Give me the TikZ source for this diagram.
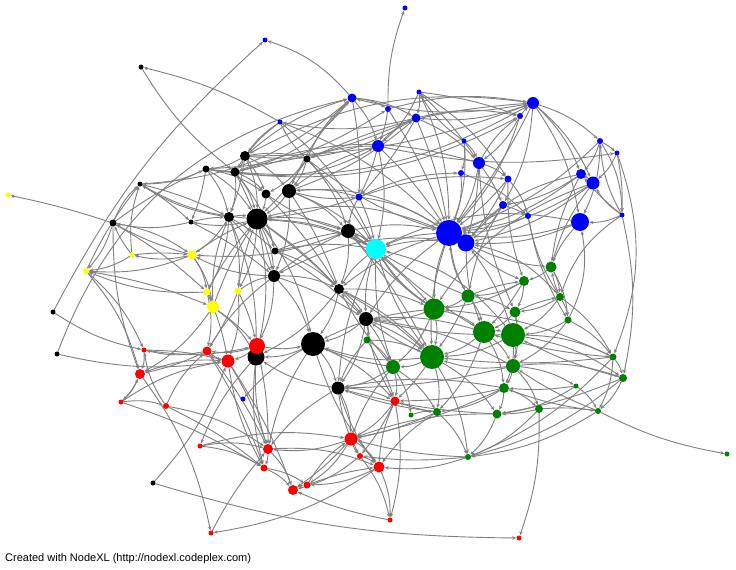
\documentclass[tikz,border=0pt]{standalone}
\usepackage{fontspec}
\setmainfont{Liberation Sans}
\usetikzlibrary{arrows.meta}
\pgfdeclarelayer{edgelayer}
\pgfdeclarelayer{bglayer}
\pgfsetlayers{bglayer,edgelayer,main}
\definecolor{ngreen}{RGB}{0,128,0}
\definecolor{ngray}{RGB}{128,128,128}
\definecolor{ncyan}{RGB}{0,255,255}
\definecolor{nblue}{RGB}{0,0,255}
\definecolor{nred}{RGB}{255,0,0}
\definecolor{nyellow}{RGB}{255,255,0}
\tikzset{
  v/.style={circle,draw=none,inner sep=0pt,outer sep=0pt},
  ed/.style={draw=ngray,line width=0.9pt,-{Stealth[length=4pt,width=3.4pt]},shorten >=0.3pt},
}
\begin{document}
\begin{tikzpicture}[x=1pt,y=-1pt]
\begin{pgfonlayer}{bglayer}
\fill[white] (0,0) rectangle (736,570);
\end{pgfonlayer}
\useasboundingbox (0,0) rectangle (736,570);
% vertices
\foreach \n/\x/\y/\d in {b1/405/8/5, b2/265/40/5, b3/352/98/9, b4/280/122/5, b5/359/197/7, b6/378/146/12, b7/419/92/5, b8/388/109/6, b9/416/118/9, b10/533/103/12, b11/520/116/6, b12/464/141/5, b13/479/163/12, b14/461/173/6, b15/508/179/7, b16/600/141/6, b17/617/153/5, b18/581/174/10, b19/593/183/13, b20/503/205/8, b21/528/216/6, b22/622/215/5, b23/580/222/18, b24/449/233/26, b25/466/243/17, b26/243/399/5}
  \node[v,fill=nblue,minimum size=\d pt] (\n) at (\x,\y) {};
\node[v,fill=ncyan,minimum size=20pt] (c1) at (376,249) {};
\foreach \n/\x/\y/\d in {k1/141/67/5, k2/245/156/10, k3/206/169/7, k4/235/172/9, k5/307/159/7, k6/140/184/5, k7/266/194/9, k8/289/191/14, k9/229/217/10, k10/257/219/21, k11/113/223/7, k12/191/222/5, k13/348/231/14, k14/275/251/7, k15/274/276/12, k16/339/289/10, k17/53/312/5, k18/57/354/5, k19/366/319/14, k20/313/344/24, k21/256/357/17, k22/338/388/13, k23/153/483/5}
  \node[v,fill=black,minimum size=\d pt] (\n) at (\x,\y) {};
\foreach \n/\x/\y/\d in {y1/8/195/5, y2/192/255/9, y3/132/255/5, y4/86/271/6, y5/207/292/7, y6/238/291/7, y7/213/307/12}
  \node[v,fill=nyellow,minimum size=\d pt] (\n) at (\x,\y) {};
\foreach \n/\x/\y/\d in {r1/257/346/16, r2/144/350/5, r3/207/351/9, r4/228/361/13, r5/140/374/10, r6/121/402/5, r7/166/406/6, r8/200/446/5, r9/268/449/10, r10/264/468/7, r11/351/439/13, r12/360/456/6, r13/379/467/11, r14/293/490/10, r15/307/485/7, r16/395/401/9, r17/211/533/5, r18/390/520/5, r19/519/538/5}
  \node[v,fill=nred,minimum size=\d pt] (\n) at (\x,\y) {};
\foreach \n/\x/\y/\d in {g1/551/267/11, g2/524/281/10, g3/468/296/13, g4/560/297/8, g5/434/309/21, g6/515/312/11, g7/568/320/7, g8/484/332/22, g9/513/335/24, g10/367/340/7, g11/432/357/24, g12/393/367/14, g13/513/366/14, g14/613/357/7, g15/623/378/8, g16/504/388/10, g17/576/386/5, g18/411/415/5, g19/437/412/8, g20/497/414/9, g21/539/409/8, g22/598/411/6, g23/468/457/6, g24/727/454/5}
  \node[v,fill=ngreen,minimum size=\d pt] (\n) at (\x,\y) {};
\node[anchor=base west,inner sep=0pt,font=\fontsize{11}{13}\selectfont] (credit) at (5,561) {Created with NodeXL (http://nodexl.codeplex.com)};
% edges
\begin{pgfonlayer}{edgelayer}
\foreach \a/\b in {b3/b9, b10/b3, b8/b10, b9/b11, b10/b9, b7/b24, b7/b15, b10/b23, b10/b19, b10/b18, b10/b20, b11/b24, b10/b16, b12/b13, b12/b14, b12/b24, b13/b11, b13/b15, b13/b24, b16/b18, b16/b23, b16/b24, b17/b19, b22/b19, b22/b23, b22/b16, b18/b20, b19/b25, b19/b24, b18/b24, b23/b24, b23/b25, b21/b24, b20/b24, b20/b25, b14/b24, b6/c1, b5/b15, b5/b24, b9/b4, b4/b24, b4/c1, b6/b9, b3/b6, b7/b6, b9/b13, b14/b21, b15/b21, b11/b13, b12/b7, b5/b14, b3/b8, b7/b9,
 k2/k3, k2/k4, k2/k8, k2/k10, k2/b3, k2/k5, k3/k10, k3/k9, k3/k6, k3/k7, k4/k7, k4/k9, k4/k10, k4/k14, k5/k8, k5/k13, k5/b3, k5/k7, k9/k6, k10/k6, k11/k6, k7/k10, k8/k10, k8/k13, k8/c1, k8/k15, k9/k10, k9/y2, k9/k21, k10/k13, k10/k15, k10/k14, k10/k12, k10/k20, k10/k21, k10/c1, k11/y2, k12/k11, k13/c1, k13/k16, k13/b24, k14/k16, k15/k16, k15/k20, k15/r1, k16/k19, k16/k20, k16/k21, k16/g5, k19/k20, k19/k22, k19/g10, k20/k21, k20/k22, k20/r16, k22/r11, k22/r16, k22/k21,
 y3/y4, y2/y4, y2/y3, y5/y4, y3/k6, k13/y2, k15/y2, y5/r3, y6/r4, y7/r5, y5/y7, y6/k15, y7/k21, k9/y5, k9/y6, k11/y4, y2/y7, y2/y5, y4/r5, y4/r2, k10/y6, y7/k9,
 r1/r3, r1/r4, r1/k21, r4/r3, r3/r2, r2/r5, r5/r6, r6/r7, r7/r2, r5/r4, r6/r4, r7/r3, r7/r9, r8/r9, r8/r10, r8/r11, r9/r10, r9/r14, r9/r13, r10/r14, r10/r15, r11/r9, r11/r13, r11/r15, r12/r13, r12/r14, r13/r15, r14/r15, r15/r11, r16/r11, r16/r18, r13/r18, r12/r18, r5/r17, r13/r17,
 g1/g2, g1/g4, g1/g7, g2/g3, g2/g6, g2/g5, g3/g5, g3/g8, g3/g6, g3/b24, g4/g6, g4/g9, g4/g7, g4/g14, g5/g11, g5/g8, g5/c1, g5/k19, g5/g12, g6/g9, g6/g8, g6/g13, g7/g9, g7/g13, g7/g14, g8/g11, g8/g9, g8/g13, g8/g16, g8/g19, g9/g11, g9/g13, g9/g16, g9/g15, g9/g14, g10/g12, g10/g11, g11/g12, g11/g19, g11/g23, g11/k20, g11/g20, g12/r16, g12/k22, g12/g18, g12/g19, g13/g16, g13/g17, g13/g21, g13/g15, g13/g11, g14/g15, g14/g22, g15/g22, g14/g23, g15/g23, g16/g20, g16/g21, g16/g19, g17/g22, g17/g20, g18/g19, g19/g23, g20/g23, g21/g23, g22/g23, g23/r13}
  \draw[ed] (\a) to[bend left=12] (\b);
\foreach \a/\b in {k3/b9, k2/b10, b10/k5, k8/b9, k4/b8, b5/k13, b5/k8, k5/b24, k7/k13, k8/b5, b6/k8, b6/k5, b4/k2, b4/k4, b4/k5, b3/k8,
 k23/r4, k21/r8, k21/r9, k20/r13, k22/r13, k22/r12, k20/b26, k17/r2, k18/r4, r2/r1, k11/r5, r6/r5, k21/r10, k20/r9, k15/r3, r1/k20, r16/r13, r11/r12, k22/r9, r4/r10,
 b23/g1, g14/g5, c1/k13, c1/k16, c1/k19, c1/g5, c1/g11, b24/c1, b25/c1, c1/k14, c1/k10, c1/g12, c1/k22, b24/g5, b24/g3, b24/g11, b24/k19, b25/g8, b25/g1, b25/g2, b18/g1, b19/g1, b21/g4, g9/b25, b20/g3, b15/g2, b13/g6, b24/k16, g8/k19, g11/k16, g13/k19, g16/k22, g20/r11, g19/r13, g12/r11, g10/k22, k19/r16, g5/k20, b21/g7, b6/b17, k1/k4}
  \draw[ed] (\a) to[bend right=10] (\b);
\foreach \a/\b in {k13/g5, k13/g11, k16/g11, k19/g12, k19/g11, k14/k19, k14/k13, k15/k19, k15/k13, k7/k16, k8/k16, k10/k16, k10/k19, k9/k15, k9/k14, k12/k15, k12/k9, k3/k12, k6/k12, k6/k9, k11/k3, k2/k7, k2/k9, k4/k15, k5/k10, k5/c1, b5/c1, b5/k10, b6/b24, b6/b5, b8/b24, b8/b6, b3/b5, b9/b24, b9/b5, b7/b13, b7/b11, b11/b10, b10/b24, b13/b20, b15/b24, b15/b25, b13/b25, b20/b21, b16/b17, b18/b19, b17/b22, b22/b18,
 g3/k13, g5/k13, g8/c1, g9/k19, g11/k19, g12/k20, g12/k16, g19/k22, g20/k22, g13/k22, g16/r16, g16/r11, g11/r16, g19/r11, g19/r16, g10/r16, g23/r11, g23/r12, g14/g8, g14/g11, g15/g9, g15/g20, g22/g16, g22/g13, g17/g16, g21/g20, g21/g22, g4/g1, g2/g8, g6/g4, g3/g11, g3/g2,
 r1/r9, r3/r9, r4/r9, r4/r14, r3/r10, r7/r10, r6/r10, r2/r4, r3/r5, r16/r12, r11/r14, r15/r13, r18/r14, r17/r9,
 y2/k11, y3/k11, y4/k6, y5/k10, y6/k10, y7/k10, y2/k10, y5/r4, y6/r3, y7/r1, y6/r1, y3/y2, y4/y7, k11/y5}
  \draw[ed] (\a) to[bend left=6] (\b);
\foreach \a/\b in {k3/b10, k2/b9, k4/b3, b10/k2, k3/b11, b13/k4, b24/k8, b25/k15, b23/c1, b19/g5, b18/b25, k6/b3, k4/b6, b24/k10, g9/c1, g4/b25, b22/g4, g7/b23}
  \draw[ed] (\a) to[bend right=18] (\b);
% long single edges
\draw[ed] (b8) to[bend left=10] (b1);
\draw[ed] (b3) to[bend right=15] (b2);
\draw[ed] (k17) to[bend left=10] (b2);
\draw[ed] (k18) to[bend left=28] (b3);
\draw[ed] (b4) to[bend right=8] (k1);
\draw[ed] (k11) to[bend right=3] (y1);
\draw[ed] (k23) to[bend right=8] (r19);
\draw[ed] (g21) to[bend left=10] (r19);
\draw[ed] (g22) to[bend right=8] (g24);
\draw[ed] (b16) to[bend left=15] (b22);
\draw[ed] (b17) to[bend left=20] (g14);
\draw[ed] (b22) to[bend left=12] (g15);
\end{pgfonlayer}
\end{tikzpicture}
\end{document}
